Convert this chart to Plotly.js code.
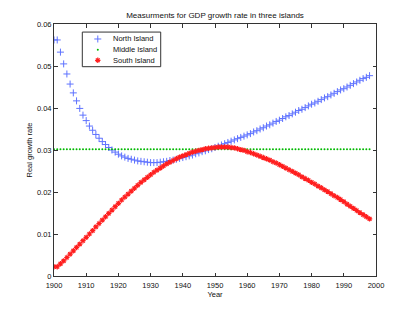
<!DOCTYPE html>
<html>
<head>
<meta charset="utf-8">
<script src="https://cdn.plot.ly/plotly-3.0.1.min.js"></script>
<style>
html,body{margin:0;padding:0;background:#fff;}
#chart{width:415px;height:312px;}
</style>
</head>
<body>
<div id="chart"></div>
<script>
const years = [1900,1901,1902,1903,1904,1905,1906,1907,1908,1909,
1910,1911,1912,1913,1914,1915,1916,1917,1918,1919,
1920,1921,1922,1923,1924,1925,1926,1927,1928,1929,
1930,1931,1932,1933,1934,1935,1936,1937,1938,1939,
1940,1941,1942,1943,1944,1945,1946,1947,1948,1949,
1950,1951,1952,1953,1954,1955,1956,1957,1958,1959,
1960,1961,1962,1963,1964,1965,1966,1967,1968,1969,
1970,1971,1972,1973,1974,1975,1976,1977,1978,1979,
1980,1981,1982,1983,1984,1985,1986,1987,1988,1989,
1990,1991,1992,1993,1994,1995,1996,1997,1998];

const northIsland = [0.0562,0.0562,0.0533,0.0505,0.0481,0.0457,0.0436,0.0417,0.0399,0.0383,
0.0370,0.0357,0.0347,0.0337,0.0328,0.0320,0.0313,0.0306,0.0300,0.0295,
0.0290,0.0286,0.0283,0.0280,0.0278,0.0276,0.0274,0.0273,0.0272,0.0271,
0.0270,0.0270,0.0270,0.0271,0.0272,0.0273,0.0275,0.0276,0.0278,0.0280,
0.0282,0.0284,0.0286,0.0288,0.0291,0.0293,0.0296,0.0298,0.0301,0.0303,
0.0306,0.0309,0.0312,0.0315,0.0318,0.0321,0.0324,0.0327,0.0330,0.0333,
0.0336,0.0339,0.0343,0.0346,0.0350,0.0353,0.0357,0.0360,0.0364,0.0368,
0.0371,0.0375,0.0379,0.0382,0.0386,0.0390,0.0394,0.0397,0.0401,0.0405,
0.0409,0.0412,0.0416,0.0420,0.0424,0.0427,0.0431,0.0435,0.0439,0.0443,
0.0446,0.0450,0.0454,0.0458,0.0462,0.0466,0.0470,0.0473,0.0477];

const middleIsland = [0.0302,0.0302,0.0302,0.0302,0.0302,0.0302,0.0302,0.0302,0.0302,0.0302,
0.0302,0.0302,0.0302,0.0302,0.0302,0.0302,0.0302,0.0302,0.0302,0.0302,
0.0302,0.0302,0.0302,0.0302,0.0302,0.0302,0.0302,0.0302,0.0302,0.0302,
0.0302,0.0302,0.0302,0.0302,0.0302,0.0302,0.0302,0.0302,0.0302,0.0302,
0.0302,0.0302,0.0302,0.0302,0.0302,0.0302,0.0302,0.0302,0.0302,0.0302,
0.0302,0.0302,0.0302,0.0302,0.0302,0.0302,0.0302,0.0302,0.0302,0.0302,
0.0302,0.0302,0.0302,0.0302,0.0302,0.0302,0.0302,0.0302,0.0302,0.0302,
0.0302,0.0302,0.0302,0.0302,0.0302,0.0302,0.0302,0.0302,0.0302,0.0302,
0.0302,0.0302,0.0302,0.0302,0.0302,0.0302,0.0302,0.0302,0.0302,0.0302,
0.0302,0.0302,0.0302,0.0302,0.0302,0.0302,0.0302,0.0302,0.0302];

const southIsland = [0.0022,0.0022,0.0029,0.0036,0.0044,0.0052,0.0060,0.0068,0.0076,0.0084,
0.0092,0.0100,0.0108,0.0117,0.0125,0.0133,0.0141,0.0149,0.0157,0.0165,
0.0173,0.0181,0.0188,0.0195,0.0202,0.0209,0.0216,0.0223,0.0229,0.0235,
0.0241,0.0247,0.0252,0.0257,0.0262,0.0267,0.0271,0.0275,0.0279,0.0283,
0.0286,0.0289,0.0292,0.0295,0.0297,0.0299,0.0301,0.0303,0.0304,0.0305,
0.0306,0.0307,0.0307,0.0307,0.0307,0.0306,0.0305,0.0303,0.0301,0.0299,
0.0296,0.0294,0.0291,0.0288,0.0285,0.0282,0.0279,0.0276,0.0272,0.0269,
0.0265,0.0261,0.0257,0.0253,0.0249,0.0245,0.0241,0.0236,0.0232,0.0228,
0.0223,0.0219,0.0214,0.0210,0.0205,0.0201,0.0196,0.0191,0.0187,0.0182,
0.0177,0.0171,0.0166,0.0161,0.0156,0.0151,0.0146,0.0141,0.0136];

const seriesNames = ['North Island', 'Middle Island', 'South Island'];
const xTickVals = [1900,1910,1920,1930,1940,1950,1960,1970,1980,1990,2000];
const yTickVals = [0,0.01,0.02,0.03,0.04,0.05,0.06];
const yTickText = ['0','0.01','0.02','0.03','0.04','0.05','0.06'];

const FONT = 'Liberation Sans, Arial, Helvetica, sans-serif';
const northStyle = {symbol:'cross-thin-open', size:5, color:'rgb(95,115,255)', line:{color:'rgb(95,115,255)', width:1}};
const middleStyle = {symbol:'circle', size:2, color:'rgb(0,185,0)', line:{width:0}};
const southStyle = {symbol:'asterisk-open', size:4.5, color:'rgb(255,30,30)', line:{color:'rgb(255,30,30)', width:1.2}};

// legend key layout (paper-fraction positions inside the custom legend box)
const legKeyX = 0.136;
const legTextX = 0.178;
const legRowY = [0.9405, 0.898, 0.856];

const traces = [
  {x: years, y: northIsland, type:'scatter', mode:'markers', name: seriesNames[0], marker: northStyle, showlegend:false, hoverinfo:'skip'},
  {x: years, y: middleIsland, type:'scatter', mode:'markers', name: seriesNames[1], marker: middleStyle, showlegend:false, hoverinfo:'skip'},
  {x: years, y: southIsland, type:'scatter', mode:'markers', name: seriesNames[2], marker: southStyle, showlegend:false, hoverinfo:'skip'},
  // legend keys on an overlay axis with 0..1 range
  {x:[legKeyX], y:[legRowY[0]], xaxis:'x2', yaxis:'y2', type:'scatter', mode:'markers', marker: northStyle, showlegend:false, hoverinfo:'skip'},
  {x:[legKeyX], y:[legRowY[1]], xaxis:'x2', yaxis:'y2', type:'scatter', mode:'markers', marker: middleStyle, showlegend:false, hoverinfo:'skip'},
  {x:[legKeyX], y:[legRowY[2]], xaxis:'x2', yaxis:'y2', type:'scatter', mode:'markers', marker: southStyle, showlegend:false, hoverinfo:'skip'}
];

const axisCommon = {
  showline:true, linecolor:'#333', linewidth:1, mirror:'ticks',
  ticks:'inside', ticklen:3.5, tickwidth:1, tickcolor:'#333',
  showgrid:false, zeroline:false,
  tickfont:{family:FONT, size:7.5, color:'#111'}
};

const layout = {
  width:415, height:312,
  paper_bgcolor:'#fff', plot_bgcolor:'#fff',
  margin:{l:54, r:39, t:24, b:36},
  font:{family:FONT, size:7.5, color:'#111'},
  title:{text:'Measurments for GDP growth rate in three islands', font:{family:FONT, size:8, color:'#111'},
         x:0.5, xref:'paper', xanchor:'center', y:1-15/312, yref:'container', yanchor:'middle'},
  xaxis: Object.assign({}, axisCommon, {
    range:[1900,2000], tickvals:xTickVals, ticktext:xTickVals.map(String), ticklabelstandoff:2,
    title:{text:'Year', font:{family:FONT, size:7.5, color:'#111'}, standoff:1}
  }),
  yaxis: Object.assign({}, axisCommon, {
    range:[0,0.06], tickvals:yTickVals, ticktext:yTickText,
    title:{text:'Real growth rate', font:{family:FONT, size:7.5, color:'#111'}, standoff:3}
  }),
  xaxis2:{overlaying:'x', range:[0,1], visible:false, anchor:'y2', fixedrange:true},
  yaxis2:{overlaying:'y', range:[0,1], visible:false, anchor:'x2', fixedrange:true},
  shapes:[{type:'rect', xref:'paper', yref:'paper', x0:0.0879, x1:0.3314, y0:0.8306, y1:0.968,
           line:{color:'#333', width:1}, fillcolor:'rgba(255,255,255,1)', layer:'below'}],
  annotations: seriesNames.map((n,i)=>({text:n, xref:'paper', yref:'paper', x:legTextX, y:legRowY[i],
     xanchor:'left', yanchor:'middle', showarrow:false, font:{family:FONT, size:7.5, color:'#111'}})),
  showlegend:false
};

Plotly.newPlot('chart', traces, layout, {staticPlot:true, displayModeBar:false});
</script>
</body>
</html>
